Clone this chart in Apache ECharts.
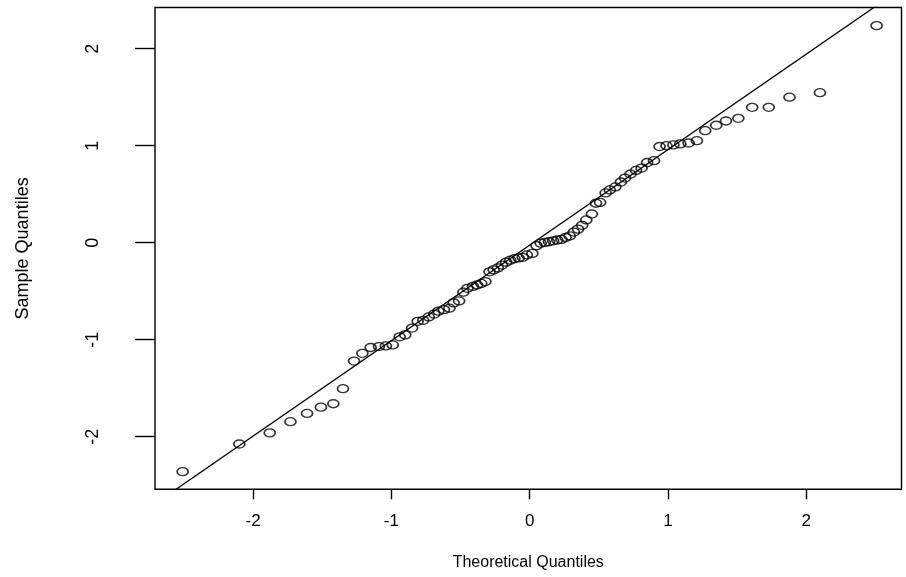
<!DOCTYPE html>
<html>
<head>
<meta charset="utf-8">
<script src="https://cdn.jsdelivr.net/npm/echarts@6/dist/echarts.min.js"></script>
<style>html,body{margin:0;padding:0;background:#fff}#c{width:906px;height:577px}</style>
</head>
<body>
<div id="c"></div>
<script>
// Theoretical quantiles (x)
const theoretical = [
 -2.51,-2.10,-1.88,-1.73,-1.61,-1.51,-1.42,-1.35,-1.27,-1.21,
 -1.15,-1.09,-1.04,-0.99,-0.94,-0.90,-0.85,-0.81,-0.77,-0.73,
 -0.69,-0.66,-0.62,-0.58,-0.55,-0.51,-0.48,-0.45,-0.41,-0.38,
 -0.35,-0.32,-0.29,-0.26,-0.23,-0.20,-0.17,-0.14,-0.11,-0.08,
 -0.05,-0.02,0.02,0.05,0.08,0.11,0.14,0.17,0.20,0.23,
 0.26,0.29,0.32,0.35,0.38,0.41,0.45,0.48,0.51,0.55,
 0.58,0.62,0.66,0.69,0.73,0.77,0.81,0.85,0.90,0.94,
 0.99,1.04,1.09,1.15,1.21,1.27,1.35,1.42,1.51,1.61,
 1.73,1.88,2.10,2.51
];
// Sample quantiles (y)
const sample = [
 -2.36,-2.075,-1.96,-1.845,-1.76,-1.695,-1.66,-1.505,-1.22,-1.14,
 -1.08,-1.07,-1.064,-1.054,-0.97,-0.95,-0.88,-0.81,-0.80,-0.765,
 -0.735,-0.705,-0.69,-0.675,-0.62,-0.60,-0.51,-0.47,-0.45,-0.435,
 -0.42,-0.40,-0.30,-0.28,-0.26,-0.23,-0.20,-0.18,-0.165,-0.157,
 -0.15,-0.126,-0.11,-0.03,-0.005,0.003,0.01,0.02,0.028,0.034,
 0.054,0.07,0.11,0.14,0.18,0.235,0.296,0.407,0.415,0.513,
 0.544,0.575,0.626,0.667,0.708,0.745,0.77,0.827,0.846,0.992,
 1.0,1.008,1.018,1.028,1.052,1.155,1.211,1.255,1.283,1.396,
 1.396,1.5,1.547,2.238
];
const tickValues = [-2,-1,0,1,2];
const tickLabels = ['-2','-1','0','1','2'];
// reference line (qqline)
const lineIntercept = -0.025;
const lineSlope = 0.984;

const xMin = -2.71, xMax = 2.69, yMin = -2.542, yMax = 2.425;
const pts = theoretical.map((x,i)=>[x, sample[i]]);
const lineEnds = [[-3, lineIntercept + lineSlope*-3],[3, lineIntercept + lineSlope*3]];
const font = 'Liberation Sans, Arial, sans-serif';
const fmt = (v)=>{const k = tickValues.indexOf(v); return k>=0 ? tickLabels[k] : '';};

const chart = echarts.init(document.getElementById('c'), null, {renderer:'canvas'});
chart.setOption({
  backgroundColor:'#fff',
  animation:false,
  grid:{left:155, right:4.5, top:7.5, bottom:87.7, show:true, borderColor:'#000', borderWidth:1.4, backgroundColor:'transparent'},
  xAxis:{
    type:'value', min:xMin, max:xMax,
    name:'Theoretical Quantiles', nameLocation:'middle', nameGap:65,
    nameTextStyle:{fontFamily:font, fontSize:16, color:'#000'},
    axisLine:{show:false, onZero:false},
    axisTick:{show:true, inside:false, length:10, customValues:tickValues, lineStyle:{color:'#000', width:1.4}},
    axisLabel:{show:true, customValues:tickValues, formatter:fmt, margin:24, fontFamily:font, fontSize:17, color:'#000'},
    splitLine:{show:false}
  },
  yAxis:{
    type:'value', min:yMin, max:yMax,
    name:'Sample Quantiles', nameLocation:'middle', nameGap:123,
    nameTextStyle:{fontFamily:font, fontSize:18, color:'#000'},
    axisLine:{show:false, onZero:false},
    axisTick:{show:true, inside:false, length:20, customValues:tickValues, lineStyle:{color:'#000', width:1.4}},
    axisLabel:{show:true, customValues:tickValues, rotate:90, formatter:fmt, margin:62, fontFamily:font, fontSize:18, color:'#000', align:'center', verticalAlign:'middle'},
    splitLine:{show:false}
  },
  series:[
    {type:'scatter', data:pts, symbol:'circle', symbolSize:[11,8],
     itemStyle:{color:'rgba(0,0,0,0)', borderColor:'#000', borderWidth:1.5}, silent:true},
    {type:'line', data:lineEnds, showSymbol:false, clip:true, lineStyle:{color:'#000', width:1.3}, silent:true}
  ]
});
</script>
</body>
</html>
